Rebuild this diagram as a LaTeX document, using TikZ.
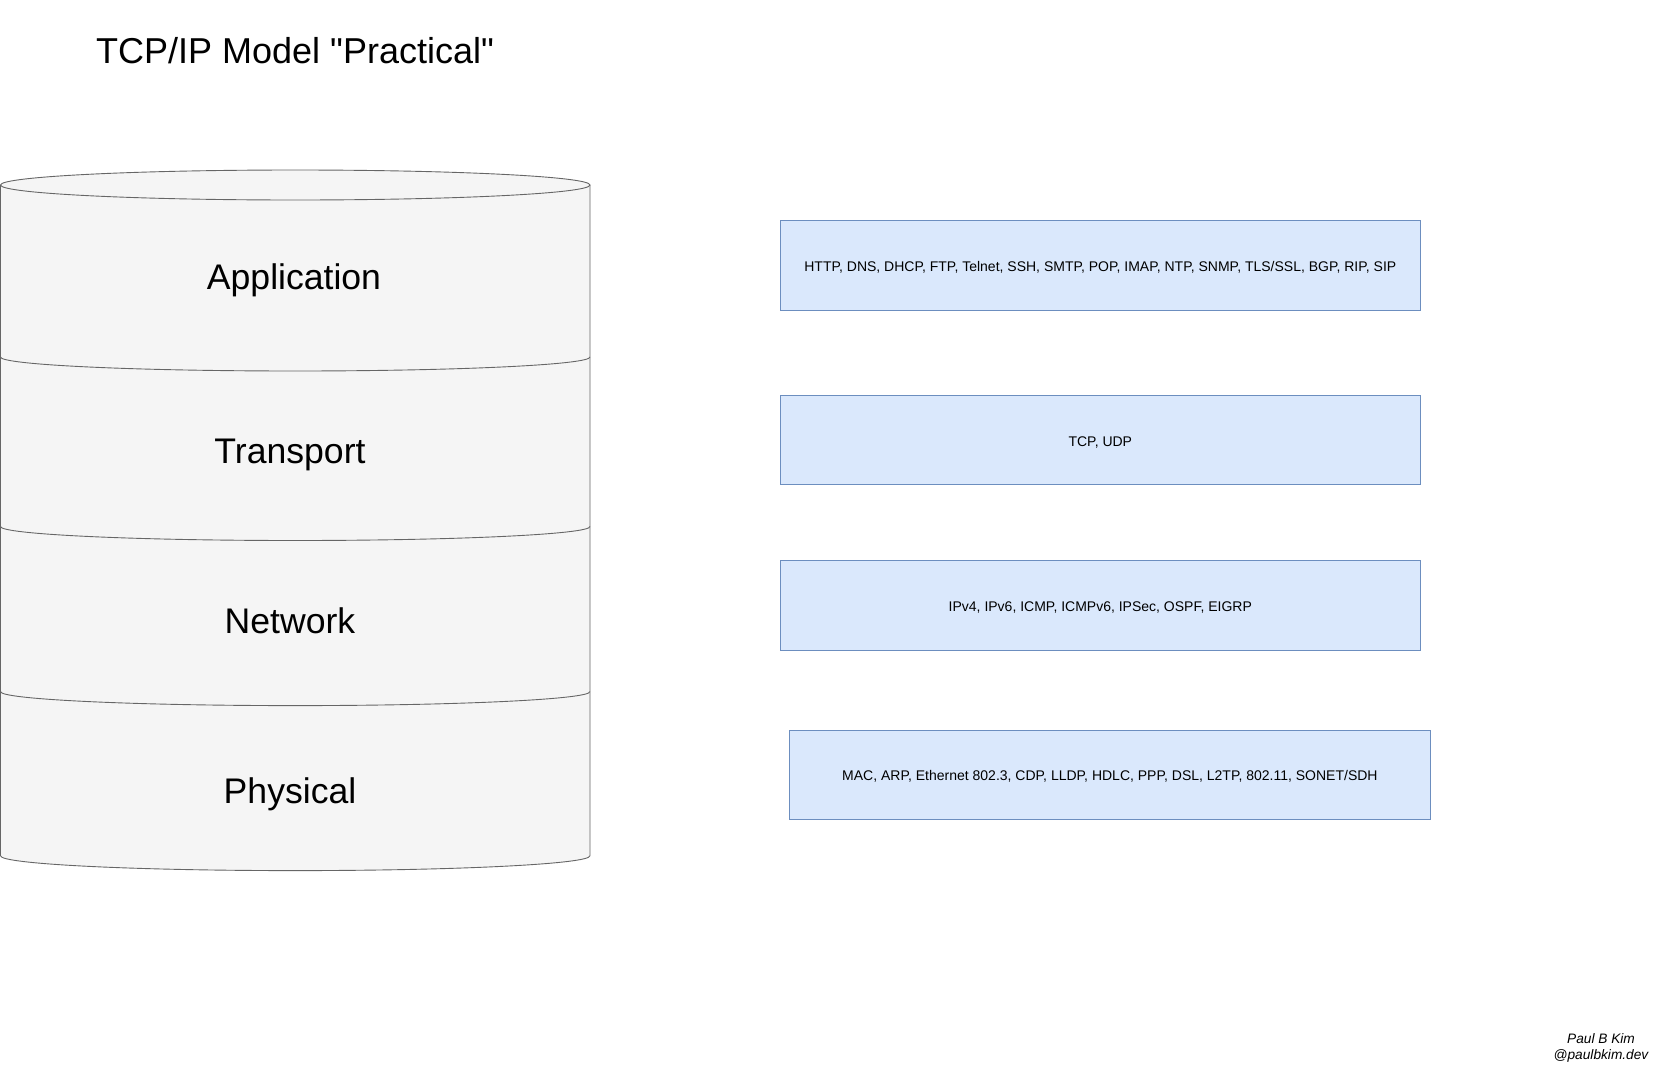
\documentclass[tikz,border=0pt]{standalone}
\usepackage{fontspec}
\setmainfont{Liberation Sans}[Ligatures=TeXOff]
\definecolor{cylfill}{HTML}{F5F5F5}
\definecolor{cylline}{HTML}{666666}
\definecolor{protofill}{HTML}{DAE8FC}
\definecolor{protoline}{HTML}{6C8EBF}
\begin{document}
\begin{tikzpicture}[x=1pt,y=1pt,
  cyl/.style={draw=cylline, line width=0.9pt},
  layerlbl/.style={font=\fontsize{35.6}{40}\selectfont, anchor=base, inner sep=0pt},
  proto/.style={draw=protoline, fill=protofill, line width=1pt, minimum width=640.5pt,
    minimum height=89.5pt, inner sep=0pt, text height=12pt, text depth=0pt,
    font=\fontsize{14}{16}\selectfont},
  titlestyle/.style={font=\fontsize{36}{40}\selectfont, anchor=base west, inner sep=0pt},
  sign/.style={font=\fontsize{13.7}{16}\selectfont\itshape, align=center, inner sep=0pt}]
\fill[white] (0,0) rectangle (1671,-1071);
\useasboundingbox (0,0) rectangle (1671,-1071);

% cylinder body
\path[fill=cylfill] (0.5,-185) -- (0.5,-855.8)
  arc[start angle=180,end angle=360,x radius=294.75pt,y radius=14.8pt]
  -- (590,-185)
  arc[start angle=0,end angle=180,x radius=294.75pt,y radius=15pt] -- cycle;
\draw[cyl] (0.5,-185) -- (0.5,-855.8)
  arc[start angle=180,end angle=360,x radius=294.75pt,y radius=14.8pt]
  -- (590,-185);
\draw[cyl] (295.25,-185) ellipse[x radius=294.75pt,y radius=15pt];
\draw[cyl] (0.5,-357) arc[start angle=180,end angle=360,x radius=294.75pt,y radius=14pt];
\draw[cyl] (0.5,-526.5) arc[start angle=180,end angle=360,x radius=294.75pt,y radius=14pt];
\draw[cyl] (0.5,-691.6) arc[start angle=180,end angle=360,x radius=294.75pt,y radius=14pt];

% layer labels
\node[layerlbl] (app) at (294,-289) {Application};
\node[layerlbl] (trans) at (290,-463.5) {Transport};
\node[layerlbl] (net) at (290,-633) {Network};
\node[layerlbl] (phys) at (290,-803.5) {Physical};

% title
\node[titlestyle] (title) at (96,-63) {TCP/IP Model "Practical"};

% protocol boxes
\node[proto] (p1) at (1100.3,-265.4) {HTTP, DNS, DHCP, FTP, Telnet, SSH, SMTP, POP, IMAP, NTP, SNMP, TLS/SSL, BGP, RIP, SIP};
\node[proto] (p2) at (1100.3,-440.2) {TCP, UDP};
\node[proto] (p3) at (1100.3,-605.3) {IPv4, IPv6, ICMP, ICMPv6, IPSec, OSPF, EIGRP};
\node[proto] (p4) at (1109.9,-774.8) {MAC, ARP, Ethernet 802.3, CDP, LLDP, HDLC, PPP, DSL, L2TP, 802.11, SONET/SDH};

% signature
\node[sign] (sig) at (1601,-1048) {Paul B Kim\\@paulbkim.dev};
\end{tikzpicture}
\end{document}
